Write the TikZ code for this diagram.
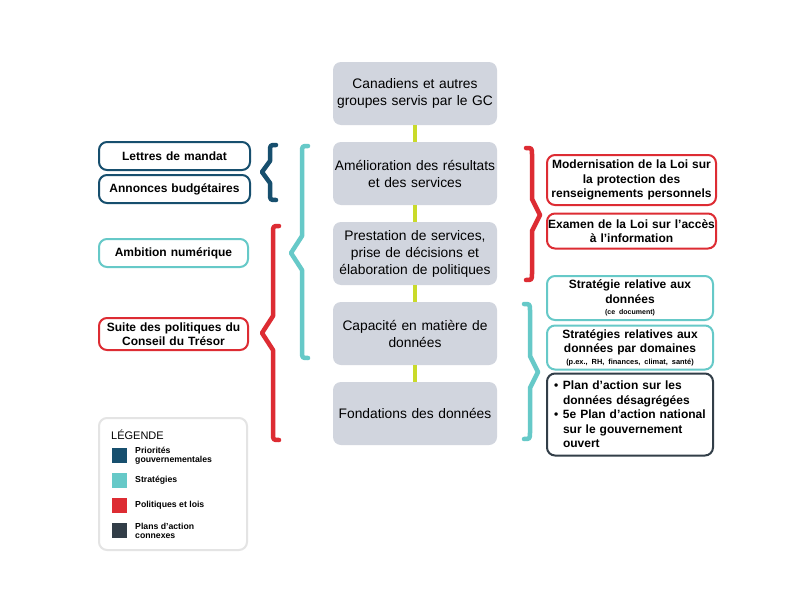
\documentclass[tikz,border=0pt]{standalone}
\usepackage{fontspec}
\setmainfont{Liberation Sans}
\frenchspacing
\definecolor{cgray}{HTML}{D1D5DE}
\definecolor{clime}{HTML}{C9DA2A}
\definecolor{cnavy}{HTML}{174F6E}
\definecolor{cteal}{HTML}{66C9C8}
\definecolor{cred}{HTML}{DD2C33}
\definecolor{cdark}{HTML}{323E48}
\definecolor{clegend}{HTML}{E4E4E4}
\newcommand\mybrace[8]{% color, v, top, bottom, tip x, mid y, hook, half
  \draw[bracestyle=#1] ({#2+#7},#3) .. controls (#2,#3) .. (#2,#3+7) -- (#2,{#6-#8}) -- (#5,#6) -- (#2,{#6+#8}) -- (#2,#4-7) .. controls (#2,#4) .. ({#2+#7},#4);}
\newcommand\bul{\hspace*{3pt}\makebox[9pt][l]{\textbullet}}
\newcommand\cont{\hspace*{12pt}}
\begin{document}
\begin{tikzpicture}[x=1pt,y=-1pt,
  center/.style={fill=cgray, rounded corners=8pt, minimum width=164pt, minimum height=63pt,
    text width=164pt, align=center, font=\fontsize{13.8}{17}\selectfont, inner sep=0pt},
  side/.style={draw=#1, line width=2pt, fill=white, rounded corners=8pt, align=center,
    font=\bfseries\fontsize{12}{14.5}\selectfont, inner sep=0pt},
  conn/.style={draw=clime, line width=4pt},
  bracestyle/.style={draw=#1, line width=4.5pt, line cap=round, line join=round},
  legsq/.style={fill=#1, minimum width=15pt, minimum height=15pt, inner sep=0pt},
  legtxt/.style={anchor=west, align=left, inner sep=0pt, font=\bfseries\fontsize{8.7}{9}\selectfont}
]
\useasboundingbox (0,0) rectangle (793,613);
\fill[white] (0,0) rectangle (793,613);

% center column
\node[center] (c1) at (415,93.5) {Canadiens et autres\\groupes servis par le GC};
\node[center] (c2) at (415,173.5) {Amélioration des résultats\\et des services};
\node[center] (c3) at (415,253.5) {Prestation de services,\\prise de décisions et\\élaboration de politiques};
\node[center] (c4) at (415,333.5) {Capacité en matière de\\données};
\node[center] (c5) at (415,413.5) {Fondations des données};
\draw[conn] (c1.south) -- (c2.north);
\draw[conn] (c2.south) -- (c3.north);
\draw[conn] (c3.south) -- (c4.north);
\draw[conn] (c4.south) -- (c5.north);

% left boxes
\node[side=cnavy, minimum width=151pt, minimum height=28pt, text width=148pt] (lettres) at (174.5,156) {Lettres de mandat};
\node[side=cnavy, minimum width=151pt, minimum height=28pt, text width=148pt] (annonces) at (174.5,189) {Annonces budgétaires};
\node[side=cteal, minimum width=149pt, minimum height=28pt, text width=146pt] (ambition) at (173.5,253) {Ambition numérique};
\node[side=cred, minimum width=149pt, minimum height=32pt, text width=146pt] (suite) at (173.5,334) {Suite des politiques du\\Conseil du Trésor};

% right boxes
\node[side=cred, minimum width=169pt, minimum height=50pt, text width=166pt] (modern) at (631.5,180) {Modernisation de la Loi sur\\la protection des\\renseignements personnels};
\node[side=cred, minimum width=169pt, minimum height=35pt, text width=168pt] (examen) at (631.5,231) {Examen de la Loi sur l’accès\\à l’information};
\node[side=cteal, minimum width=166pt, minimum height=44pt, text width=163pt] (strat) at (630,298) {Stratégie relative aux\\données\\[-3pt]{\fontsize{7}{8}\selectfont (ce document)}};
\node[side=cteal, minimum width=166pt, minimum height=44pt, text width=163pt] (domaines) at (630,347.5) {Stratégies relatives aux\\données par domaines\\[-3pt]{\fontsize{7.4}{8}\selectfont (p.ex., RH, finances, climat, santé)}};
\node[side=cdark, minimum width=166pt, minimum height=82pt, text width=158pt, align=left] (plan) at (630,414.5) {\bul Plan d’action sur les\\\cont données désagrégées\\\bul 5e Plan d’action national\\\cont sur le gouvernement\\\cont ouvert};

% braces
\mybrace{cnavy}{270}{145}{200}{262}{172}{6}{11}
\mybrace{cteal}{302}{146}{358}{291}{253}{6}{17}
\mybrace{cred}{273}{226}{440}{262}{333}{6}{17}
\mybrace{cred}{532}{148}{280}{540}{215}{-6}{16}
\mybrace{cteal}{530}{304}{439}{538}{372}{-6}{16}

% legend
\node[draw=clegend, line width=2pt, rounded corners=8pt, minimum width=148pt, minimum height=132pt, inner sep=0pt] (legend) at (173,484) {};
\node[anchor=west, inner sep=0pt, font=\fontsize{11}{13}\selectfont] (legtitle) at (111,435) {LÉGENDE};
\node[legsq=cnavy] (sq1) at (119.5,455.5) {};
\node[legsq=cteal] (sq2) at (119.5,480.5) {};
\node[legsq=cred] (sq3) at (119.5,505.5) {};
\node[legsq=cdark] (sq4) at (119.5,530.5) {};
\node[legtxt] (lt1) at (135,455.5) {Priorités\\gouvernementales};
\node[legtxt] (lt2) at (135,480.5) {Stratégies};
\node[legtxt] (lt3) at (135,505.5) {Politiques et lois};
\node[legtxt] (lt4) at (135,530.5) {Plans d’action\\connexes};
\end{tikzpicture}
\end{document}
